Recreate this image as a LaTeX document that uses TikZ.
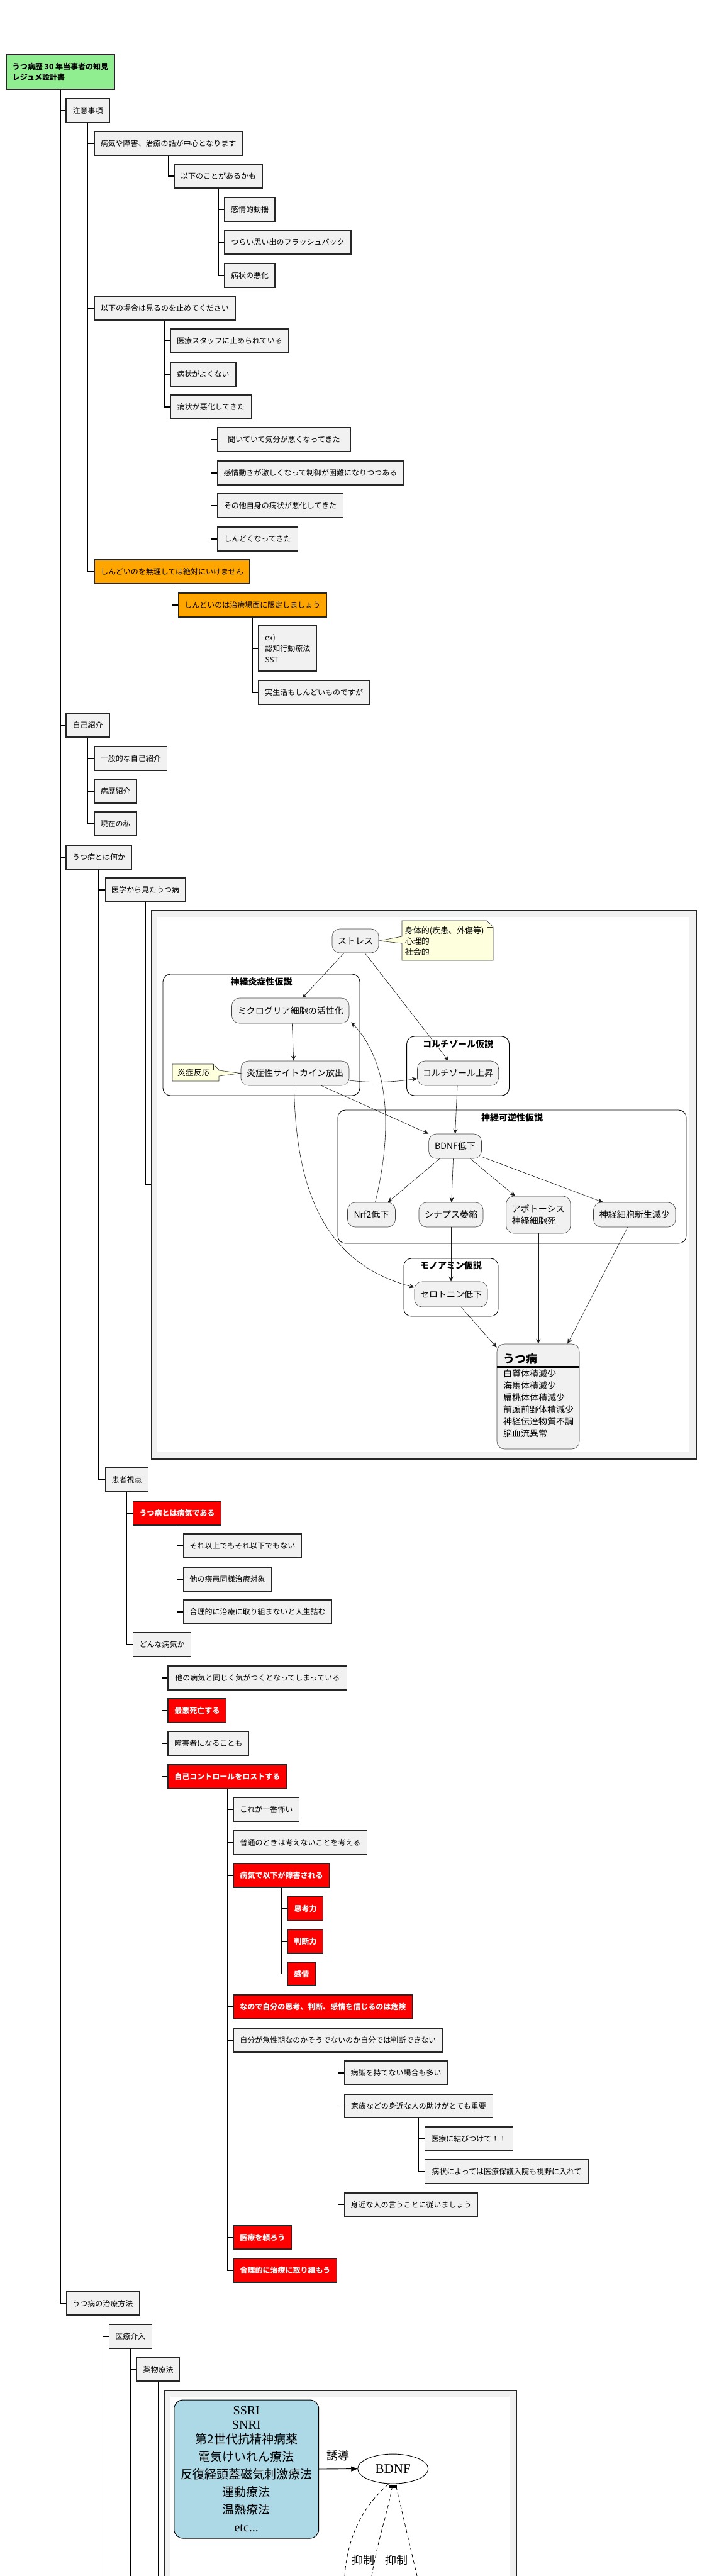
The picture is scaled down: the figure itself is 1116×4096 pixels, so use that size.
\documentclass[tikz,border=0pt]{standalone}
\usepackage{fontspec}
\setmainfont{Noto Sans CJK JP}
\newfontfamily\serifl{Liberation Serif}
\usetikzlibrary{arrows.meta,shapes.geometric}
\definecolor{tbfill}{HTML}{F1F1F1}
\definecolor{orng}{HTML}{FFA500}
\definecolor{lgreen}{HTML}{90EE90}
\definecolor{noteyel}{HTML}{FEFFDD}
\definecolor{lblue}{HTML}{ADD8E6}
\definecolor{redbox}{HTML}{FF0000}
\newcommand\mybox[7][tb]{%
  \pgfmathsetmacro\tbw{#5-#3}%
  \pgfmathsetmacro\tbh{#6-#4}%
  \pgfmathsetmacro\tbx{(#3+#5)/2}%
  \pgfmathsetmacro\tby{(#4+#6)/2}%
  \node[#1,minimum width=\tbw pt,minimum height=\tbh pt] (#2) at (\tbx,\tby) {#7};}
\begin{document}
\begin{tikzpicture}[x=1pt,y=-1pt,
  tb/.style={draw=black!85,line width=1.1pt,fill=tbfill,inner sep=0pt,align=left,font=\fontsize{12}{17.4}\selectfont},
  tbred/.style={tb,fill=redbox,text=white,font=\fontsize{12}{17.4}\selectfont\bfseries},
  tborange/.style={tb,fill=orng},
  tbroot/.style={tb,fill=lgreen,font=\fontsize{12}{17.6}\selectfont\bfseries},
  link/.style={draw=black,line width=1.1pt},
  frameo/.style={draw=black!85,line width=1.2pt,fill=tbfill,inner sep=0pt},
  act/.style={draw=black!75,line width=0.6pt,fill=tbfill,rounded corners=12pt,inner sep=0pt,align=left,font=\fontsize{14}{19.5}\selectfont},
  clus/.style={draw=black,line width=0.9pt,rounded corners=12pt,inner sep=0pt},
  ctitle/.style={font=\fontsize{14}{16}\selectfont\bfseries,inner sep=0pt},
  arr/.style={draw=black!90,line width=0.6pt,-{Stealth[length=8pt,width=7pt,inset=2.5pt]}},
  notetext/.style={font=\fontsize{13}{16.7}\selectfont,align=left,inner sep=0pt,anchor=west},
  drugbox/.style={draw=black,line width=1pt,fill=lblue,rounded corners=14pt,inner sep=0pt,align=center,font=\fontsize{19}{28}\selectfont},
  dsh/.style={draw=black,line width=0.8pt,dash pattern=on 6pt off 4pt}
]
\fill[white] (0,0) rectangle (1116,4096);
\useasboundingbox (0,0) rectangle (1116,4096);

% ---------------- tree ----------------
\mybox[tbroot]{r0}{10}{87}{182}{142}{うつ病歴 30 年当事者の知見\\レジュメ設計書}
\mybox{a1}{105}{157}{174}{195}{注意事項}
\mybox{a1c1}{150}{209}{385}{247}{病気や障害、治療の話が中心となります}
\mybox{a1c1c1}{277}{261}{417}{299}{以下のことがあるかも}
\mybox{a1c1c1c1}{357}{314}{437}{352}{感情的動揺}
\mybox{a1c1c1c2}{357}{366}{558}{404}{つらい思い出のフラッシュバック}
\mybox{a1c1c1c3}{357}{419}{437}{457}{病状の悪化}
\mybox{a1c2}{150}{471}{374}{509}{以下の場合は見るのを止めてください}
\mybox{a1c2c1}{271}{523}{459}{561}{医療スタッフに止められている}
\mybox{a1c2c2}{271}{576}{375}{614}{病状がよくない}
\mybox{a1c2c3}{271}{628}{400}{666}{病状が悪化してきた}
\mybox{a1c2c3c1}{345.5}{680}{557.6}{718}{聞いていて気分が悪くなってきた}
\mybox{a1c2c3c2}{345.5}{733}{641.5}{771}{感情動きが激しくなって制御が困難になりつつある}
\mybox{a1c2c3c3}{345.5}{785}{545.5}{823}{その他自身の病状が悪化してきた}
\mybox{a1c2c3c4}{345.5}{838}{473.7}{876}{しんどくなってきた}
\mybox[tborange]{a1c3}{150}{890}{397}{928}{しんどいのを無理しては絶対にいけません}
\mybox[tborange]{a1c3c1}{283.5}{943}{519.6}{981}{しんどいのは治療場面に限定しましょう}
\mybox{a1c3c1c1}{411}{995}{503.6}{1067}{ex)\\認知行動療法\\SST}
\mybox{a1c3c1c2}{411}{1082}{587.5}{1120}{実生活もしんどいものですが}
\mybox{a2}{105}{1134}{174}{1172}{自己紹介}
\mybox{a2c1}{150}{1187}{265.6}{1225}{一般的な自己紹介}
\mybox{a2c2}{150}{1239}{217.4}{1277}{病歴紹介}
\mybox{a2c3}{150}{1291}{217.4}{1329}{現在の私}
\mybox{a3}{105}{1344}{209}{1382}{うつ病とは何か}
\mybox{a3c1}{167.4}{1396}{295}{1434}{医学から見たうつ病}
\mybox{a3c2}{167.4}{2334}{235.7}{2372}{患者視点}
\mybox[tbred]{p1}{211.6}{2387}{351.3}{2425}{うつ病とは病気である}
\mybox{p1c1}{291.5}{2439}{479.5}{2477}{それ以上でもそれ以下でもない}
\mybox{p1c2}{291.5}{2492}{431.7}{2530}{他の疾患同様治療対象}
\mybox{p1c3}{291.5}{2544}{527.7}{2582}{合理的に治療に取り組まないと人生詰む}
\mybox{p2}{211.6}{2596}{303.6}{2634}{どんな病気か}
\mybox{p2c1}{267}{2649}{551.8}{2687}{他の病気と同じく気がつくとなってしまっている}
\mybox[tbred]{p2c2}{267}{2701}{359.8}{2739}{最悪死亡する}
\mybox{p2c3}{267}{2753}{395.5}{2791}{障害者になることも}
\mybox[tbred]{p2c4}{267}{2806}{455.8}{2844}{自己コントロールをロストする}
\mybox{b1}{371.4}{2858}{475.4}{2896}{これが一番怖い}
\mybox{b2}{371.4}{2911}{583.5}{2949}{普通のときは考えないことを考える}
\mybox[tbred]{b3}{371.4}{2963}{523.7}{3001}{病気で以下が障害される}
\mybox[tbred]{b3c1}{457.6}{3015}{513.4}{3054}{思考力}
\mybox[tbred]{b3c2}{457.6}{3068}{513.4}{3106}{判断力}
\mybox[tbred]{b3c3}{457.6}{3120}{501.3}{3157}{感情}
\mybox[tbred]{b4}{371.4}{3172}{655.4}{3210}{なので自分の思考、判断、感情を信じるのは危険}
\mybox{b5}{371.4}{3225}{703.5}{3263}{自分が急性期なのかそうでないのか自分では判断できない}
\mybox{b5c1}{547.3}{3277}{711.8}{3315}{病識を持てない場合も多い}
\mybox{b5c2}{547.3}{3330}{783.3}{3367}{家族などの身近な人の助けがとても重要}
\mybox{b5c2c1}{675.2}{3382}{815.5}{3419}{医療に結びつけて！！}
\mybox{b5c2c2}{675.2}{3434}{935.8}{3472}{病状によっては医療保護入院も視野に入れて}
\mybox{b5c3}{547.3}{3487}{759.7}{3524}{身近な人の言うことに従いましょう}
\mybox[tbred]{b6}{371.4}{3539}{463.4}{3576}{医療を頼ろう}
\mybox[tbred]{b7}{371.4}{3591}{535.7}{3629}{合理的に治療に取り組もう}
\mybox{a4}{105.4}{3644}{221.4}{3681}{うつ病の治療方法}
\mybox{a4c1}{173.2}{3696}{241.5}{3734}{医療介入}
\mybox{a4c1c1}{217.4}{3749}{285.7}{3786}{薬物療法}
\coordinate (e1) at (163.4,4096);
\coordinate (e2) at (207.35,4096);
\coordinate (e3) at (251.55,4096);

% ---------------- frame 1 ----------------
\mybox[frameo]{f1}{241}{1448}{1107}{2320}{}
\fill[white] (250,1458) rectangle (1096,2309);

% tree links
\foreach \p/\c in {r0/a1,r0/a2,r0/a3,r0/a4,
  a1/a1c1,a1/a1c2,a1/a1c3,a1c1/a1c1c1,
  a1c1c1/a1c1c1c1,a1c1c1/a1c1c1c2,a1c1c1/a1c1c1c3,
  a1c2/a1c2c1,a1c2/a1c2c2,a1c2/a1c2c3,
  a1c2c3/a1c2c3c1,a1c2c3/a1c2c3c2,a1c2c3/a1c2c3c3,a1c2c3/a1c2c3c4,
  a1c3/a1c3c1,a1c3c1/a1c3c1c1,a1c3c1/a1c3c1c2,
  a2/a2c1,a2/a2c2,a2/a2c3,
  a3/a3c1,a3/a3c2,a3c1/f1,
  a3c2/p1,a3c2/p2,p1/p1c1,p1/p1c2,p1/p1c3,
  p2/p2c1,p2/p2c2,p2/p2c3,p2/p2c4,
  p2c4/b1,p2c4/b2,p2c4/b3,p2c4/b4,p2c4/b5,p2c4/b6,p2c4/b7,
  b3/b3c1,b3/b3c2,b3/b3c3,
  b5/b5c1,b5/b5c2,b5/b5c3,b5c2/b5c2c1,b5c2/b5c2c2,
  a4/a4c1,a4c1/a4c1c1}
  {\draw[link] (\p.south) |- (\c.west);}
\draw[link] (a4.south) -- (e1);
\draw[link] (a4c1.south) -- (e2);
\draw[link] (a4c1c1.south) -- (e3);

% clusters
\mybox[clus]{cl1}{259}{1549}{572}{1742}{}
\node[ctitle] (cl1t) at (415.5,1561) {神経炎症性仮説};
\mybox[clus]{cl2}{646.6}{1648}{809.5}{1742}{}
\node[ctitle] (cl2t) at (728,1660) {コルチゾール仮説};
\mybox[clus]{cl3}{537}{1765}{1091}{1977}{}
\node[ctitle] (cl3t) at (814,1777) {神経可逆性仮説};
\mybox[clus]{cl4}{642}{2001}{792}{2093}{}
\node[ctitle] (cl4t) at (717,2012) {モノアミン仮説};

% activity nodes
\mybox[act]{str}{528}{1477}{602}{1515}{ストレス}
\mybox[act]{mic}{368.5}{1587}{555}{1627}{ミクログリア細胞の活性化}
\mybox[act]{cyt}{383}{1687}{555}{1726}{炎症性サイトカイン放出}
\mybox[act]{cor}{663.5}{1687}{792.6}{1726}{コルチゾール上昇}
\mybox[act]{bdnf}{681.6}{1803}{765.5}{1842}{BDNF低下}
\mybox[act]{nrf}{552.5}{1912}{628.5}{1951}{Nrf2低下}
\mybox[act]{syn}{666}{1912}{768}{1951}{シナプス萎縮}
\mybox[act]{apo}{804.7}{1902}{907}{1961}{アポトーシス\\神経細胞死}
\mybox[act]{neu}{943.5}{1912}{1074}{1951}{神経細胞新生減少}
\mybox[act]{ser}{659}{2038}{775}{2078}{セロトニン低下}
\mybox[act]{dep}{790}{2137}{921}{2304}{}
\node[anchor=west,inner sep=0pt,font=\fontsize{18}{20}\selectfont\bfseries] (dept) at (800,2161) {うつ病};
\draw[line width=0.6pt] (790,2172.3) -- (921,2172.3) (790,2174.7) -- (921,2174.7);
\node[anchor=north west,inner sep=0pt,align=left,font=\fontsize{14}{19}\selectfont] (depl) at (800,2177) {白質体積減少\\海馬体積減少\\扁桃体体積減少\\前頭前野体積減少\\神経伝達物質不調\\脳血流異常};

% notes
\draw[fill=noteyel,draw=black!80,line width=0.6pt] (639,1464) -- (774,1464) -- (784,1474) -- (784,1527) -- (639,1527) -- (639,1500) -- (str.east) -- (639,1489) -- cycle;
\draw[draw=black!80,line width=0.6pt] (774,1464) -- (774,1474) -- (784,1474);
\node[notetext] (n1) at (643.6,1496.7) {身体的(疾患、外傷等)\\心理的\\社会的};
\draw[fill=noteyel,draw=black!80,line width=0.6pt] (274,1692) -- (339,1692) -- (348,1701) -- (348,1702) -- (cyt.west) -- (348,1711) -- (348,1719) -- (274,1719) -- cycle;
\draw[draw=black!80,line width=0.6pt] (339,1692) -- (339,1701) -- (348,1701);
\node[notetext] (n2) at (281.6,1706) {炎症反応};

% edges
\draw[arr] ([xshift=-18pt]str.south) -- ([xshift=19pt]mic.north);
\draw[arr] ([xshift=15pt]str.south) -- ([xshift=-15pt]cor.north);
\draw[arr] ([xshift=2.6pt]mic.south) -- ([xshift=-2.2pt]cyt.north);
\draw[arr] ([yshift=-11.5pt]cyt.east) .. controls (590,1722) and (625,1721) .. ([yshift=-8.5pt]cor.west);
\draw[arr] ([xshift=42pt]cyt.south) -- (bdnf.north west);
\draw[arr] ([xshift=-1pt]cor.south) -- (bdnf.north);
\draw[arr] ([xshift=-24.5pt]bdnf.south) -- ([xshift=26pt]nrf.north);
\draw[arr] ([xshift=-3pt]bdnf.south) -- ([xshift=0.8pt]syn.north);
\draw[arr] ([xshift=24pt]bdnf.south) -- ([xshift=-37pt]apo.north);
\draw[arr] ([yshift=3pt]bdnf.south east) -- ([xshift=-50pt]neu.north);
\draw[arr] ([xshift=6pt]nrf.north) .. controls (624,1800) and (620,1690) .. ([xshift=3pt,yshift=2pt]mic.south east);
\draw[arr] ([xshift=-1.6pt]cyt.south) .. controls (470,1900) and (520,2010) .. ([yshift=11pt]ser.west);
\draw[arr] (syn.south) -- (ser.north);
\draw[arr] ([xshift=16pt]ser.south) -- ([yshift=-6pt]dep.north west);
\draw[arr] (apo.south) -- (apo.south |- dep.north);
\draw[arr] ([xshift=-11pt]neu.south) -- ([xshift=-19pt]dep.north east);

% ---------------- frame 2 ----------------
\mybox[frameo]{f2}{261}{3801}{821}{4110}{}
\fill[white] (271,3811) rectangle (810,4110);
\mybox[drugbox]{drugs}{276.8}{3816}{506.7}{4036}{{\serifl\fontsize{20}{23}\selectfont SSRI}\\[-5pt]{\serifl\fontsize{20}{23}\selectfont SNRI}\\[-5pt]第2世代抗精神病薬\\電気けいれん療法\\反復経頭蓋磁気刺激療法\\運動療法\\温熱療法\\{\serifl\fontsize{20}{23}\selectfont etc...}}
\node[ellipse,draw=black,line width=0.9pt,minimum width=112pt,minimum height=47pt,inner sep=0pt,font=\serifl\fontsize{21}{24}\selectfont] (bdnf2) at (624.7,3925.5) {BDNF};
\draw[line width=0.9pt,-{Triangle[length=10pt,width=8pt]}] (drugs.east) -- (bdnf2.west) node[midway,yshift=21pt,font=\fontsize{18}{20}\selectfont,inner sep=0pt] (lab1) {誘導};
\coordinate (d1) at (548,4096);
\coordinate (d2) at (591,4096);
\coordinate (d3) at (663,4096);
\draw[dsh] (d1) .. controls (553,4020) and (588,3975) .. (bdnf2.255);
\draw[dsh] (d2) .. controls (600,4040) and (615,4000) .. ([xshift=-1.5pt,yshift=-6pt]bdnf2.south);
\draw[dsh] (d3) -- ([xshift=5.5pt,yshift=-6pt]bdnf2.south);
\fill ([xshift=-6.5pt,yshift=-1pt]bdnf2.south) rectangle ([xshift=6.5pt,yshift=-6pt]bdnf2.south);
\node[font=\fontsize{18}{20}\selectfont,inner sep=0pt] (lab2) at (577,4071) {抑制};
\node[font=\fontsize{18}{20}\selectfont,inner sep=0pt] (lab3) at (630,4071) {抑制};
\end{tikzpicture}
\end{document}
